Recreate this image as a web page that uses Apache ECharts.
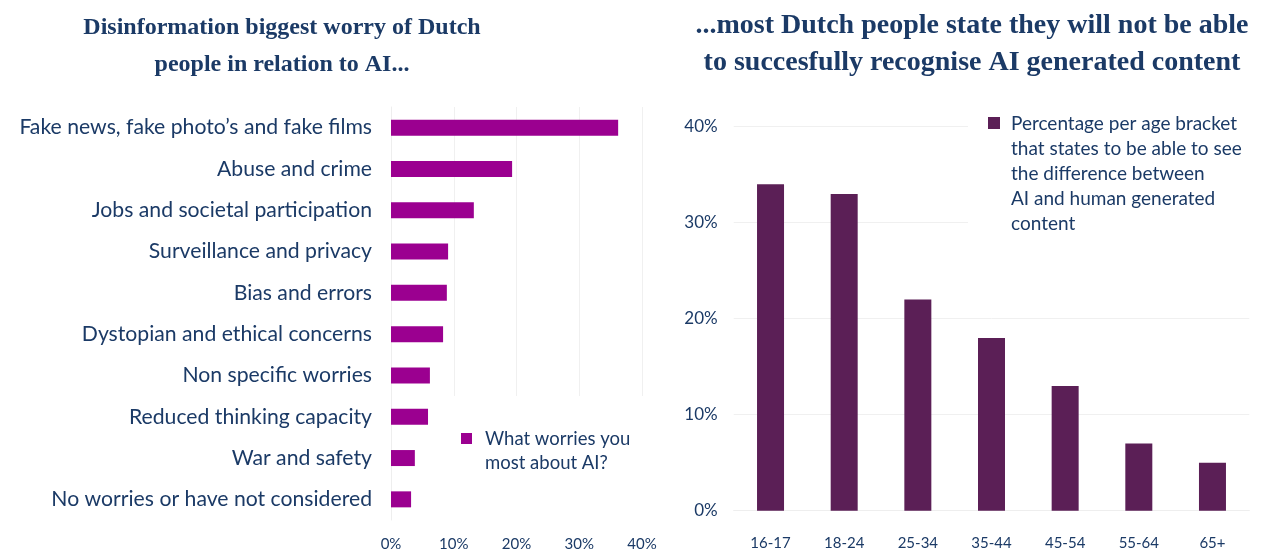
<!DOCTYPE html>
<html>
<head>
<meta charset="utf-8">
<script src="https://cdn.jsdelivr.net/npm/echarts@6/dist/echarts.min.js"></script>
<style>html,body{margin:0;padding:0;background:#fff;}#c{width:1263px;height:552px;}</style>
</head>
<body>
<div id="c"></div>
<script>
// Left chart data
var worryCategories = [
  "Fake news, fake photo\u2019s and fake films",
  "Abuse and crime",
  "Jobs and societal participation",
  "Surveillance and privacy",
  "Bias and errors",
  "Dystopian and ethical concerns",
  "Non specific worries",
  "Reduced thinking capacity",
  "War and safety",
  "No worries or have not considered"
];
var worryValues = [36.2, 19.3, 13.2, 9.1, 8.9, 8.3, 6.2, 5.9, 3.8, 3.2];
var worrySeriesName = "What worries you\nmost about AI?";

// Right chart data
var ageCategories = ["16-17", "18-24", "25-34", "35-44", "45-54", "55-64", "65+"];
var ageValues = [34, 33, 22, 18, 13, 7, 5];
var ageSeriesName = "Percentage per age bracket\nthat states to be able to see\nthe difference between\nAI and human generated\ncontent";

var NAVY = "#1b3a66";
var SANS = "Lato, 'Noto Sans', sans-serif";
var SERIF = "'Liberation Serif', 'DejaVu Serif', serif";

var chart = echarts.init(document.getElementById('c'), null, {renderer: 'canvas'});
chart.setOption({
  animation: false,
  backgroundColor: '#fff',
  title: [
    {
      text: "Disinformation biggest worry of Dutch\npeople in relation to AI...",
      left: 277, top: 4, textAlign: 'center',
      textStyle: {fontFamily: SERIF, fontWeight: 'bold', fontSize: 24, lineHeight: 37, color: NAVY}
    },
    {
      text: "...most Dutch people state they will not be able\nto succesfully recognise AI generated content",
      left: 967, top: 2, textAlign: 'center',
      textStyle: {fontFamily: SERIF, fontWeight: 'bold', fontSize: 28, lineHeight: 37, color: NAVY}
    }
  ],
  legend: [
    {
      data: [{name: worrySeriesName, icon: 'path://M0,0L0.01,0L0,0.01Z M0,6L11,6L11,17L0,17Z M19,48L18.99,48L19,47.99Z'}],
      left: 450, top: 396,
      padding: [31, 20, 50, 11],
      backgroundColor: '#fff',
      itemWidth: 19, itemHeight: 48,
      symbolKeepAspect: false,
      selectedMode: false,
      textStyle: {fontFamily: SANS, fontSize: 18.5, lineHeight: 24, color: NAVY}
    },
    {
      data: [{name: ageSeriesName, icon: 'path://M0,0L0.01,0L0,0.01Z M0,5.5L12,5.5L12,17.5L0,17.5Z M18,125L17.99,125L18,124.99Z'}],
      left: 968, top: 105,
      padding: [6.5, 10, 6, 20],
      backgroundColor: '#fff',
      itemWidth: 18, itemHeight: 125,
      symbolKeepAspect: false,
      selectedMode: false,
      textStyle: {fontFamily: SANS, fontSize: 19, lineHeight: 25, color: NAVY}
    }
  ],
  grid: [
    {left: 391, top: 107, width: 251, height: 415.5, containLabel: false},
    {left: 733.7, top: 126.7, width: 515.6, height: 384, containLabel: false}
  ],
  xAxis: [
    {
      type: 'value', gridIndex: 0, min: 0, max: 40, interval: 10,
      axisLine: {show: false}, axisTick: {show: false},
      splitLine: {show: true, lineStyle: {color: '#f0f0f0', width: 1}},
      axisLabel: {formatter: '{value}%', fontFamily: SANS, fontSize: 15, color: NAVY, margin: 17}
    },
    {
      type: 'category', gridIndex: 1, data: ageCategories,
      axisLine: {show: true, lineStyle: {color: '#eeeeee'}}, axisTick: {show: false},
      axisLabel: {fontFamily: SANS, fontSize: 15, color: NAVY, margin: 25}
    }
  ],
  yAxis: [
    {
      type: 'category', gridIndex: 0, data: worryCategories, inverse: true,
      axisLine: {show: true, lineStyle: {color: '#eeeeee'}}, axisTick: {show: false},
      axisLabel: {fontFamily: SANS, fontSize: 21.2, color: NAVY, margin: 19}
    },
    {
      type: 'value', gridIndex: 1, min: 0, max: 40, interval: 10,
      axisLine: {show: false}, axisTick: {show: false},
      splitLine: {show: true, lineStyle: {color: '#f0f0f0', width: 1}},
      axisLabel: {formatter: '{value}%', fontFamily: SANS, fontSize: 17, color: NAVY, margin: 16}
    }
  ],
  series: [
    {
      name: worrySeriesName, type: 'bar', xAxisIndex: 0, yAxisIndex: 0,
      data: worryValues, barWidth: 16,
      itemStyle: {color: '#9b0090'}
    },
    {
      name: ageSeriesName, type: 'bar', xAxisIndex: 1, yAxisIndex: 1,
      data: ageValues, barWidth: 27,
      itemStyle: {color: '#5b1f56'}
    }
  ]
});
</script>
</body>
</html>
